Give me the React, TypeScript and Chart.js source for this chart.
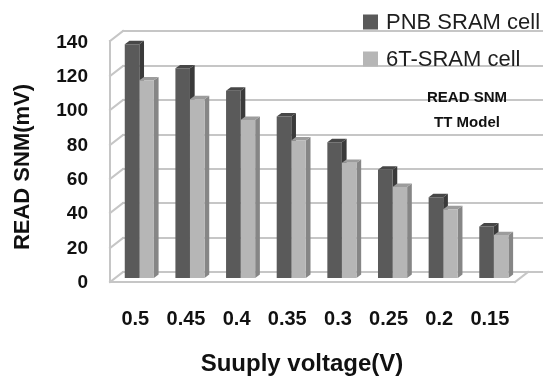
import { useEffect, useRef } from "react";
import { Chart, registerables } from "chart.js";

Chart.register(...registerables);

// ---- data ----
const categories = ["0.5", "0.45", "0.4", "0.35", "0.3", "0.25", "0.2", "0.15"];
const pnbValues = [136, 122, 109, 94, 79, 63, 47, 30];
const sramValues = [115, 104, 92, 80, 67, 53, 40, 25];
const yTicks = [0, 20, 40, 60, 80, 100, 120, 140];
const seriesNames = ["PNB SRAM cell", "6T-SRAM cell"];
const annotationLines = ["READ SNM", "TT Model"];
const yTitle = "READ SNM(mV)";
const xTitle = "Suuply voltage(V)";

// ---- styles ----
const FONT = "'Liberation Sans', Arial, sans-serif";
const frontColors = ["#5a5a5a", "#b6b6b6"];
const sideColors = ["#3a3a3a", "#868686"];
const topColors = ["#474747", "#9c9c9c"];
const GRID = "#c6c6c6";
const GRID_W = 2;
const BAR_D = 4.7;
const BAR_DY = 3.4;
const FRONT_DX = -4;
const FRONT_DY = 4;
const BACK_DX = 9;
const BACK_DY = -6;
const CANVAS_W = 543;
const CANVAS_H = 383;

function poly(ctx: CanvasRenderingContext2D, pts: number[][]) {
  ctx.beginPath();
  ctx.moveTo(pts[0][0], pts[0][1]);
  for (let i = 1; i < pts.length; i++) ctx.lineTo(pts[i][0], pts[i][1]);
  ctx.closePath();
  ctx.fill();
}

function seg(ctx: CanvasRenderingContext2D, x1: number, y1: number, x2: number, y2: number) {
  ctx.beginPath();
  ctx.moveTo(x1, y1);
  ctx.lineTo(x2, y2);
  ctx.stroke();
}

const pseudo3d = {
  id: "pseudo3d",
  beforeDatasetsDraw(chart: any) {
    const ctx: CanvasRenderingContext2D = chart.ctx;
    const area = chart.chartArea;
    const ys = chart.scales["y"];
    ctx.save();
    ctx.strokeStyle = GRID;
    ctx.lineWidth = GRID_W;
    ctx.lineCap = "square";
    const fl = Math.round(area.left + FRONT_DX);
    const bl = Math.round(area.left + BACK_DX);
    const fr = Math.round(area.right + FRONT_DX);
    const br = Math.round(area.right + BACK_DX);
    for (let k = 0; k < yTicks.length; k++) {
      const py = Math.round(ys.getPixelForValue(yTicks[k]));
      seg(ctx, fl, py + FRONT_DY, bl, py + BACK_DY);
      seg(ctx, bl, py + BACK_DY, CANVAS_W, py + BACK_DY);
    }
    const pTop = Math.round(ys.getPixelForValue(yTicks[yTicks.length - 1]));
    const pBot = Math.round(ys.getPixelForValue(yTicks[0]));
    seg(ctx, fl, pTop + FRONT_DY, fl, pBot + FRONT_DY);
    seg(ctx, fl, pBot + FRONT_DY, fr, pBot + FRONT_DY);
    seg(ctx, fr, pBot + FRONT_DY, br, pBot + BACK_DY);

    chart.data.datasets.forEach((_ds: any, i: number) => {
      const meta = chart.getDatasetMeta(i);
      meta.data.forEach((bar: any) => {
        const p = bar.getProps(["x", "y", "base", "width"], true);
        const l = p.x - p.width / 2;
        const r = p.x + p.width / 2;
        ctx.fillStyle = sideColors[i];
        poly(ctx, [
          [r, p.y],
          [r + BAR_D, p.y - BAR_DY],
          [r + BAR_D, p.base - BAR_DY],
          [r, p.base],
        ]);
        ctx.fillStyle = topColors[i];
        poly(ctx, [
          [l, p.y],
          [l + BAR_D, p.y - BAR_DY],
          [r + BAR_D, p.y - BAR_DY],
          [r, p.y],
        ]);
      });
    });
    ctx.restore();
  },
  afterDraw(chart: any) {
    const ctx: CanvasRenderingContext2D = chart.ctx;
    ctx.save();
    // legend (from the dataset labels and colours)
    const rows = [22, 59];
    chart.data.datasets.forEach((ds: any, i: number) => {
      ctx.fillStyle = frontColors[i];
      ctx.fillRect(363, rows[i] - 7.5, 15, 15);
      ctx.fillStyle = "#1e1e1e";
      ctx.font = `22px ${FONT}`;
      ctx.textAlign = "left";
      ctx.textBaseline = "middle";
      ctx.fillText(ds.label, 386, rows[i] + 1);
    });
    // annotation
    ctx.fillStyle = "#111";
    ctx.font = `bold 15px ${FONT}`;
    ctx.textAlign = "center";
    ctx.textBaseline = "middle";
    ctx.fillText(annotationLines[0], 467, 98);
    ctx.fillText(annotationLines[1], 467, 123);
    // axis titles
    ctx.font = `bold 24px ${FONT}`;
    ctx.fillText(xTitle, 302, 364);
    ctx.save();
    ctx.translate(23, 167);
    ctx.rotate(-Math.PI / 2);
    ctx.font = `bold 22px ${FONT}`;
    ctx.fillText(yTitle, 0, 0);
    ctx.restore();
    ctx.restore();
  },
};

export default function App() {
  const ref = useRef<HTMLCanvasElement | null>(null);
  useEffect(() => {
    if (!ref.current) return;
    const chart = new Chart(ref.current, {
      type: "bar",
      data: {
        labels: categories,
        datasets: [
          { label: seriesNames[0], data: pnbValues, backgroundColor: frontColors[0], borderWidth: 0 },
          { label: seriesNames[1], data: sramValues, backgroundColor: frontColors[1], borderWidth: 0 },
        ],
      },
      options: {
        animation: false,
        responsive: false,
        events: [],
        layout: { padding: { left: 0, right: 11, top: 28, bottom: 0 } },
        plugins: { legend: { display: false }, tooltip: { enabled: false } },
        datasets: { bar: { categoryPercentage: 0.575, barPercentage: 1 } },
        scales: {
          x: {
            afterFit: (s: any) => {
              s.height = 105;
            },
            grid: { display: false, drawTicks: false },
            border: { display: false },
            ticks: {
              padding: 29,
              labelOffset: -4,
              maxRotation: 0,
              autoSkip: false,
              color: "#111",
              font: { family: FONT, size: 20, weight: "bold" },
            },
          },
          y: {
            min: 0,
            max: 140,
            afterFit: (s: any) => {
              s.width = 114;
            },
            afterBuildTicks: (s: any) => {
              s.ticks = yTicks.map((v) => ({ value: v }));
            },
            grid: { display: false, drawTicks: false },
            border: { display: false },
            ticks: {
              padding: 26,
              labelOffset: 5,
              color: "#111",
              font: { family: FONT, size: 19, weight: "bold" },
            },
          },
        },
      },
      plugins: [pseudo3d],
    });
    return () => chart.destroy();
  }, []);
  return (
    <div style={{ position: "fixed", left: 0, top: 0, width: CANVAS_W, height: CANVAS_H, background: "#fff" }}>
      <canvas ref={ref} width={CANVAS_W} height={CANVAS_H} style={{ display: "block" }} />
    </div>
  );
}
